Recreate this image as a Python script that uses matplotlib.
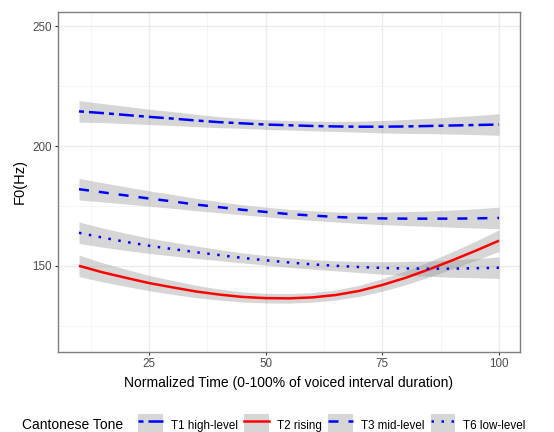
import numpy as np
import matplotlib.pyplot as plt
from matplotlib.lines import Line2D
from matplotlib.patches import Patch
from matplotlib.legend_handler import HandlerTuple

plt.rcParams['font.family'] = ['Liberation Sans', 'DejaVu Sans']

# tiempo normalizado (%)
t = [10, 15, 20, 25, 30, 35, 40, 45, 50, 55, 60, 65, 70, 75, 80, 85, 90, 95, 100]

# curvas suavizadas de F0 (Hz)
t1 = [214.5, 213.8, 213.0, 212.2, 211.5, 210.7, 210.0, 209.5, 209.0, 208.7,
      208.4, 208.2, 208.1, 208.1, 208.2, 208.4, 208.6, 208.8, 209.0]
t2 = [150.0, 147.3, 145.0, 142.8, 141.0, 139.3, 138.0, 137.0, 136.5, 136.4,
      136.8, 137.8, 139.5, 142.0, 145.0, 148.5, 152.3, 156.3, 160.5]
t3 = [182.0, 180.7, 179.4, 178.1, 176.9, 175.6, 174.5, 173.4, 172.5, 171.6,
      171.0, 170.4, 170.0, 169.8, 169.7, 169.7, 169.7, 169.8, 170.0]
t6 = [163.8, 161.8, 160.0, 158.4, 157.0, 155.7, 154.5, 153.3, 152.3, 151.4,
      150.6, 150.0, 149.5, 149.1, 148.9, 148.8, 148.8, 149.0, 149.2]

# semiancho de la banda de confianza (Hz)
se = [4.5, 4.0, 3.6, 3.2, 2.9, 2.6, 2.3, 2.1, 2.0, 2.0,
      2.0, 2.1, 2.3, 2.6, 2.9, 3.2, 3.6, 4.0, 4.5]

nombres = ['T1 high-level', 'T2 rising', 'T3 mid-level', 'T6 low-level']
series = [t1, t2, t3, t6]
colores = ['blue', 'red', 'blue', 'blue']
estilos = [[2, 2, 6, 2], None, [4, 4], [1, 3]]

fig = plt.figure(figsize=(5.54, 4.32), dpi=100)
ax = fig.add_axes([58/554, 80/432, 462/554, 340/432])

x = np.array(t)
for y in series:
    y = np.array(y)
    ax.fill_between(x, y - np.array(se), y + np.array(se), color='#999999',
                    alpha=0.4, linewidth=0, zorder=2)

handles = []
for y, c, d in zip(series, colores, estilos):
    ln, = ax.plot(x, y, color=c, lw=1.8, solid_capstyle='butt',
                  dash_capstyle='butt', zorder=3)
    if d is not None:
        ln.set_dashes(d)
    key = Line2D([], [], color=c, lw=1.8, dash_capstyle='butt')
    if d is not None:
        key.set_dashes(d)
    handles.append((Patch(facecolor='#d6d6d6', edgecolor='none'), key))

ax.set_xlim(5.5, 104.5)
ax.set_ylim(114, 256)
ax.set_xticks([25, 50, 75, 100])
ax.set_xticks([12.5, 37.5, 62.5, 87.5], minor=True)
ax.set_yticks([150, 200, 250])
ax.set_yticks([125, 175, 225], minor=True)
ax.grid(True, which='major', color='#ebebeb', lw=1.0, zorder=0)
ax.grid(True, which='minor', color='#f4f4f4', lw=0.6, zorder=0)
ax.set_axisbelow(True)
ax.tick_params(which='major', length=2.5, width=0.8, color='#333333',
               labelsize=8.4, labelcolor='#4d4d4d', pad=2)
ax.tick_params(which='minor', length=0)
for s in ax.spines.values():
    s.set_color('#7f7f7f')
    s.set_linewidth(1.0)

ax.set_xlabel('Normalized Time (0-100% of voiced interval duration)',
              fontsize=10, labelpad=4)
ax.set_ylabel('F0(Hz)', fontsize=10.5, labelpad=4)

fig.text(22/554, 7/432, 'Cantonese Tone', fontsize=10, va='center', ha='left')
fig.legend(handles, nombres, handler_map={tuple: HandlerTuple(ndivide=1)},
           loc='center left', bbox_to_anchor=(138/554, 7/432), ncol=4,
           frameon=False, fontsize=8.4, handlelength=2.1, handleheight=2.5,
           handletextpad=0.7, columnspacing=0.55, borderpad=0, borderaxespad=0)

fig.savefig('out.png', dpi=100)
